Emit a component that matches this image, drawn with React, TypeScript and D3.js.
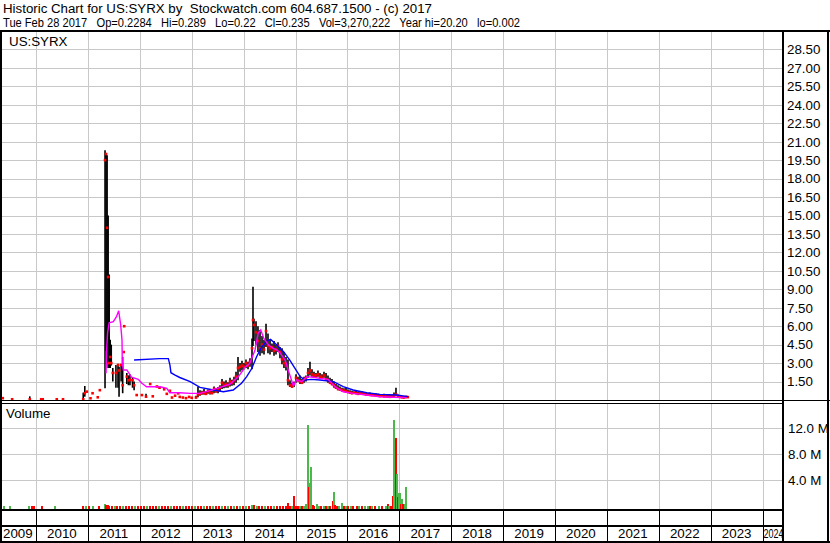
import React from "react";
import * as d3 from "d3";

const header1 = "Historic Chart for US:SYRX by  Stockwatch.com 604.687.1500 - (c) 2017";
const header2 = "Tue Feb 28 2017   Op=0.2284   Hi=0.289   Lo=0.22   Cl=0.235   Vol=3,270,222   Year hi=20.20   lo=0.002";
const symbolLabel = "US:SYRX";
const volumeTitle = "Volume";
const yearLabels = [2009, 2010, 2011, 2012, 2013, 2014, 2015, 2016, 2017, 2018, 2019, 2020, 2021, 2022, 2023, 2024];
const priceTicks = [1.5, 3, 4.5, 6, 7.5, 9, 10.5, 12, 13.5, 15, 16.5, 18, 19.5, 21, 22.5, 24, 25.5, 27, 28.5];
const volumeTicks = [4, 8, 12];

// [decimal year, high, low, close]
const priceBars: number[][] = [
  [2009.36, 0.15, 0.15, 0.15], [2009.54, 0.06, 0.06, 0.06], [2009.88, 0.3, 0.06, 0.06],
  [2010.10, 0.06, 0.06, 0.06], [2010.13, 0.06, 0.06, 0.06], [2010.40, 0.06, 0.06, 0.06],
  [2010.52, 0.06, 0.06, 0.06], [2010.91, 0.6, 0.06, 0.06], [2010.94, 1.14, 0.27, 0.55],
  [2010.98, 0.68, 0.68, 0.68], [2011.05, 0.14, 0.14, 0.14], [2011.09, 0.55, 0.55, 0.55],
  [2011.19, 0.22, 0.22, 0.22], [2011.23, 0.8, 0.8, 0.8],
  [2011.33, 20.3, 0.95, 19.5], [2011.35, 20.0, 4.0, 20.0], [2011.37, 19.9, 3.0, 14.0],
  [2011.39, 15.0, 2.6, 10.0], [2011.41, 10.2, 2.6, 3.0], [2011.43, 4.9, 2.6, 3.5],
  [2011.45, 4.5, 2.8, 3.0], [2011.48, 2.6, 1.5, 2.2], [2011.54, 2.85, 1.0, 2.2],
  [2011.58, 2.85, 1.0, 2.85], [2011.60, 2.7, 0.27, 2.4], [2011.64, 2.85, 1.5, 2.85],
  [2011.67, 3.5, 0.55, 1.2], [2011.69, 3.9, 3.9, 3.9], [2011.70, 6.0, 6.0, 6.0],
  [2011.75, 2.2, 1.3, 1.9], [2011.78, 2.0, 1.2, 1.6], [2011.81, 2.1, 1.2, 1.65],
  [2011.86, 1.8, 1.0, 1.6], [2011.89, 1.5, 0.8, 1.2], [2011.94, 0.4, 0.4, 0.4],
  [2012.04, 0.4, 0.4, 0.4], [2012.12, 0.5, 0.27, 0.27], [2012.20, 1.3, 1.3, 1.3],
  [2012.25, 0.3, 0.3, 0.3], [2012.33, 1.1, 1.1, 1.1], [2012.38, 1.1, 0.9, 1.0],
  [2012.47, 0.87, 0.87, 0.87], [2012.52, 0.5, 0.5, 0.5], [2012.58, 0.75, 0.75, 0.75],
  [2012.62, 0.2, 0.2, 0.2], [2012.68, 0.35, 0.35, 0.35], [2012.74, 0.54, 0.54, 0.54],
  [2012.77, 0.25, 0.25, 0.25], [2012.83, 0.2, 0.2, 0.2], [2012.89, 0.15, 0.15, 0.15],
  [2012.95, 0.25, 0.25, 0.25], [2013.00, 0.18, 0.18, 0.18],
  [2013.083, 0.35, 0.15, 0.2], [2013.121, 1.08, 0.22, 0.45], [2013.160, 0.8, 0.35, 0.5],
  [2013.198, 0.75, 0.42, 0.6], [2013.237, 0.9, 0.45, 0.55], [2013.276, 0.7, 0.4, 0.5],
  [2013.314, 0.85, 0.5, 0.7], [2013.353, 0.8, 0.45, 0.6], [2013.391, 0.75, 0.5, 0.55],
  [2013.430, 1.1, 0.55, 0.9], [2013.468, 0.95, 0.6, 0.7], [2013.507, 1.05, 0.55, 0.8],
  [2013.545, 1.2, 0.7, 1.0], [2013.584, 1.7, 0.9, 1.4], [2013.622, 1.5, 0.95, 1.2],
  [2013.661, 1.6, 1.0, 1.3], [2013.699, 1.45, 1.0, 1.2], [2013.738, 1.8, 1.1, 1.5],
  [2013.776, 1.65, 1.15, 1.4], [2013.815, 1.9, 1.2, 1.6], [2013.854, 2.3, 1.4, 1.9],
  [2013.892, 3.5, 1.6, 2.6], [2013.931, 3.0, 2.3, 2.7], [2013.969, 3.2, 2.4, 2.8],
  [2014.008, 3.0, 2.5, 2.7], [2014.046, 3.3, 2.6, 3.0], [2014.085, 3.1, 2.5, 2.8],
  [2014.123, 3.4, 2.7, 3.1], [2014.162, 5.0, 2.5, 4.2], [2014.181, 9.2, 4.4, 6.5],
  [2014.200, 6.6, 4.8, 6.1], [2014.239, 6.4, 4.5, 5.5], [2014.277, 6.0, 3.9, 4.8],
  [2014.316, 5.7, 3.6, 4.2], [2014.355, 5.2, 3.8, 4.5], [2014.393, 4.9, 3.7, 4.1],
  [2014.432, 6.2, 4.3, 5.6], [2014.470, 5.4, 3.8, 4.4], [2014.509, 4.9, 3.7, 4.2],
  [2014.547, 4.6, 3.9, 4.3], [2014.586, 4.8, 3.6, 4.0], [2014.624, 4.5, 3.7, 4.1],
  [2014.663, 4.7, 3.9, 4.4], [2014.701, 4.3, 3.4, 3.9], [2014.740, 4.2, 2.9, 3.3],
  [2014.778, 3.9, 2.6, 3.0], [2014.817, 3.5, 2.4, 2.8], [2014.855, 3.3, 1.2, 1.6],
  [2014.894, 1.6, 1.05, 1.2], [2014.933, 1.4, 1.0, 1.1], [2014.971, 1.5, 1.05, 1.3],
  [2015.010, 2.1, 1.4, 1.8], [2015.048, 1.9, 1.5, 1.6], [2015.087, 2.0, 1.3, 1.5],
  [2015.125, 1.7, 1.3, 1.4], [2015.164, 1.9, 1.4, 1.7], [2015.202, 2.0, 1.5, 1.8],
  [2015.241, 2.6, 1.8, 2.2], [2015.279, 3.1, 2.0, 2.4], [2015.318, 2.5, 1.9, 2.1],
  [2015.356, 2.3, 1.8, 2.0], [2015.395, 2.2, 1.8, 2.0], [2015.433, 2.4, 1.9, 2.1],
  [2015.472, 2.2, 1.7, 1.9], [2015.511, 2.1, 1.7, 1.8], [2015.549, 2.3, 1.8, 2.0],
  [2015.588, 2.2, 1.6, 1.7], [2015.626, 2.0, 1.4, 1.6], [2015.665, 1.8, 1.3, 1.4],
  [2015.703, 1.7, 1.2, 1.3], [2015.742, 1.5, 1.0, 1.2], [2015.780, 1.3, 0.9, 1.0],
  [2015.819, 1.2, 0.8, 0.9], [2015.857, 1.1, 0.75, 0.85], [2015.896, 1.0, 0.7, 0.8],
  [2015.934, 0.95, 0.65, 0.75], [2015.973, 1.0, 0.6, 0.7], [2016.012, 0.85, 0.6, 0.65],
  [2016.050, 0.8, 0.55, 0.6], [2016.089, 0.75, 0.5, 0.55], [2016.127, 0.7, 0.5, 0.6],
  [2016.166, 0.8, 0.5, 0.55], [2016.204, 0.7, 0.45, 0.5], [2016.243, 0.65, 0.45, 0.55],
  [2016.281, 0.7, 0.5, 0.6], [2016.320, 0.6, 0.45, 0.5], [2016.358, 0.65, 0.4, 0.45],
  [2016.397, 0.55, 0.4, 0.45], [2016.435, 0.6, 0.38, 0.42], [2016.474, 0.55, 0.35, 0.4],
  [2016.513, 0.5, 0.35, 0.4], [2016.551, 0.55, 0.32, 0.38], [2016.590, 0.5, 0.3, 0.35],
  [2016.628, 0.45, 0.28, 0.32], [2016.667, 0.48, 0.3, 0.35], [2016.705, 0.5, 0.28, 0.3],
  [2016.744, 0.42, 0.25, 0.3], [2016.782, 0.45, 0.26, 0.28], [2016.821, 0.4, 0.22, 0.26],
  [2016.859, 0.42, 0.24, 0.28], [2016.898, 0.6, 0.25, 0.35], [2016.936, 1.0, 0.35, 0.45],
  [2016.975, 0.45, 0.2, 0.3], [2017.013, 0.38, 0.2, 0.25], [2017.052, 0.35, 0.18, 0.22],
  [2017.090, 0.32, 0.16, 0.2], [2017.129, 0.3, 0.2, 0.25], [2017.164, 0.289, 0.22, 0.235],
];

// short moving average (magenta): [decimal year, value]
const maShort: number[][] = [
  [2011.35, 2.17], [2011.36, 4.0], [2011.38, 5.5], [2011.41, 6.28], [2011.49, 6.37],
  [2011.55, 6.77], [2011.593, 7.25], [2011.605, 6.9], [2011.632, 6.1], [2011.657, 4.88],
  [2011.663, 2.98], [2011.682, 2.44], [2011.75, 2.44], [2011.84, 1.85], [2011.97, 1.68],
  [2012.04, 1.36], [2012.13, 1.08], [2012.39, 1.08], [2012.52, 0.95], [2012.58, 0.59],
  [2012.77, 0.59], [2012.97, 0.54], [2013.16, 0.54], [2013.35, 0.76], [2013.55, 1.03],
  [2013.74, 1.3], [2013.90, 1.9], [2014.03, 2.66], [2014.12, 2.98], [2014.22, 4.07],
  [2014.28, 5.42], [2014.33, 5.69], [2014.39, 5.0], [2014.48, 4.47], [2014.57, 4.2],
  [2014.64, 4.07], [2014.70, 3.85], [2014.80, 3.25], [2014.89, 2.03], [2014.96, 1.14],
  [2015.02, 1.63], [2015.12, 1.49], [2015.22, 1.9], [2015.34, 1.85], [2015.47, 1.76],
  [2015.63, 1.68], [2015.76, 1.08], [2015.92, 0.67], [2016.11, 0.54], [2016.37, 0.41],
  [2016.63, 0.27], [2016.88, 0.22], [2017.14, 0.19],
];

// long moving average (blue)
const maLong: number[][] = [
  [2011.89, 3.25], [2012.38, 3.36], [2012.55, 3.36], [2012.58, 2.85], [2012.60, 2.22],
  [2012.68, 2.03], [2012.77, 1.83], [2012.97, 1.49], [2013.16, 1.03], [2013.42, 0.81],
  [2013.61, 0.67], [2013.80, 0.81], [2013.96, 1.36], [2014.06, 1.9], [2014.16, 2.58],
  [2014.25, 3.52], [2014.35, 4.33], [2014.46, 4.82], [2014.52, 4.93], [2014.64, 4.47],
  [2014.77, 3.93], [2014.89, 3.25], [2014.99, 2.58], [2015.09, 1.9], [2015.18, 1.63],
  [2015.31, 1.68], [2015.47, 1.63], [2015.73, 1.49], [2015.92, 1.08], [2016.11, 0.81],
  [2016.37, 0.59], [2016.63, 0.46], [2016.95, 0.41], [2017.17, 0.27],
];

// volume: [decimal year, millions, up(1)/down(0)]
const volumeRows: number[][] = [
  [2009.38, 0.06, 1], [2009.50, 0.04, 1], [2009.87, 0.05, 1], [2009.92, 0.07, 0], [2009.97, 0.05, 0],
  [2010.12, 0.05, 0], [2010.37, 0.04, 1], [2010.91, 0.08, 0], [2010.96, 0.06, 1], [2011.03, 0.08, 0],
  [2011.10, 0.05, 1], [2011.22, 0.07, 0], [2011.33, 0.3, 1], [2011.35, 0.25, 0], [2011.37, 0.2, 0],
  [2011.39, 0.15, 0], [2011.41, 0.12, 0], [2011.47, 0.08, 0], [2011.52, 0.06, 1], [2011.57, 0.1, 0],
  [2011.62, 0.07, 0], [2011.68, 0.05, 1], [2011.73, 0.08, 0], [2011.79, 0.06, 0], [2011.85, 0.09, 0],
  [2011.91, 0.05, 1], [2011.97, 0.07, 0], [2012.02, 0.06, 0], [2012.08, 0.08, 0], [2012.14, 0.05, 1],
  [2012.20, 0.07, 0], [2012.26, 0.06, 0], [2012.32, 0.05, 0], [2012.37, 0.06, 1], [2012.43, 0.08, 0],
  [2012.49, 0.06, 0], [2012.55, 0.07, 0], [2012.60, 0.05, 1], [2012.66, 0.06, 0], [2012.72, 0.08, 0],
  [2012.78, 0.06, 0], [2012.84, 0.05, 1], [2012.89, 0.07, 0], [2012.95, 0.06, 0], [2013.01, 0.05, 0],
  [2013.07, 0.06, 1], [2013.12, 0.07, 0], [2013.18, 0.05, 0], [2013.24, 0.06, 1], [2013.30, 0.08, 0],
  [2013.35, 0.06, 0], [2013.41, 0.07, 1], [2013.47, 0.05, 0], [2013.53, 0.08, 0], [2013.58, 0.06, 1],
  [2013.64, 0.07, 0], [2013.70, 0.09, 1], [2013.76, 0.06, 0], [2013.81, 0.08, 1], [2013.87, 0.1, 0],
  [2013.93, 0.12, 1], [2013.99, 0.1, 0], [2014.04, 0.1, 1], [2014.10, 0.12, 0], [2014.16, 0.2, 1],
  [2014.20, 0.15, 0], [2014.25, 0.12, 1], [2014.30, 0.1, 0], [2014.36, 0.12, 0], [2014.42, 0.08, 1],
  [2014.47, 0.1, 0], [2014.53, 0.08, 0], [2014.59, 0.06, 1], [2014.65, 0.1, 0], [2014.70, 0.08, 0],
  [2014.76, 0.1, 0], [2014.81, 0.12, 0], [2014.85, 0.46, 0], [2014.90, 0.08, 0], [2014.93, 0.05, 1],
  [2014.965, 1.6, 0], [2015.00, 0.1, 0], [2015.04, 0.06, 0], [2015.08, 0.08, 1], [2015.12, 0.07, 0],
  [2015.16, 0.06, 1], [2015.198, 0.3, 1], [2015.235, 12.5, 1], [2015.254, 2.9, 0], [2015.27, 3.6, 1],
  [2015.299, 6.1, 1], [2015.331, 0.25, 0], [2015.36, 0.1, 0], [2015.42, 0.3, 1], [2015.46, 0.08, 1],
  [2015.50, 0.06, 0], [2015.54, 0.1, 1], [2015.58, 0.05, 0], [2015.62, 0.1, 1], [2015.66, 0.06, 0],
  [2015.713, 0.86, 0], [2015.736, 2.25, 1], [2015.76, 0.2, 0], [2015.80, 0.1, 0], [2015.83, 0.05, 1],
  [2015.89, 0.55, 1], [2015.93, 0.08, 0], [2015.97, 0.1, 1], [2016.01, 0.06, 0], [2016.06, 0.05, 1],
  [2016.10, 0.06, 0], [2016.185, 0.08, 0], [2016.22, 0.05, 1], [2016.28, 0.06, 0], [2016.34, 0.05, 1],
  [2016.40, 0.07, 1], [2016.44, 0.05, 0], [2016.48, 0.1, 1], [2016.54, 0.06, 0], [2016.60, 0.05, 1],
  [2016.66, 0.06, 0], [2016.74, 0.08, 1], [2016.776, 0.35, 0], [2016.81, 0.1, 1], [2016.84, 0.1, 0],
  [2016.869, 1.6, 0], [2016.898, 13.3, 1], [2016.927, 10.5, 0], [2016.956, 5.0, 1], [2016.975, 1.4, 0],
  [2016.994, 2.1, 1], [2017.013, 2.0, 1], [2017.03, 0.3, 0], [2017.052, 1.2, 1], [2017.07, 0.4, 0],
  [2017.09, 0.1, 0], [2017.11, 0.3, 1], [2017.138, 2.9, 1],
];

const FONT = "'Liberation Sans', Arial, Helvetica, sans-serif";
const GRID = "#c8c8c8";

export default function App() {
  const left = 2, right = 782;
  const priceTop = 31, priceBottom = 400;
  const volTop = 403, volBottom = 509;
  const x = d3.scaleLinear().domain([2010, 2024]).range([36, 762.6]);
  const yP = d3.scaleLinear().domain([0, 30]).range([priceBottom, priceTop]);
  const yV = d3.scaleLinear().domain([0, 12]).range([506.3, 428.3]);
  const lineGen = d3.line<number[]>().x((d) => x(d[0])).y((d) => yP(d[1]));
  const boundaries = yearLabels.slice(1).map((y) => x(y));

  return (
    <svg width={830} height={543} style={{ position: "absolute", left: 0, top: 0, display: "block", background: "#fff" }}
      fontFamily={FONT} fontSize={13.33}>
      <defs>
        <clipPath id="pclip"><rect x={left} y={priceTop} width={right - left} height={priceBottom - priceTop} /></clipPath>
        <clipPath id="vclip"><rect x={left} y={volTop} width={right - left} height={volBottom - volTop} /></clipPath>
        <clipPath id="xclip"><rect x={left} y={510} width={right - left} height={31} /></clipPath>
      </defs>
      <rect x={0} y={0} width={830} height={543} fill="#fff" />
      {/* header */}
      <text x={3} y={13} fontSize={12} textLength={429} lengthAdjust="spacingAndGlyphs" style={{ whiteSpace: "pre" }}>{header1}</text>
      <text x={3} y={26.5} fontSize={12} textLength={517} lengthAdjust="spacingAndGlyphs" style={{ whiteSpace: "pre" }}>{header2}</text>

      {/* price grid */}
      <g shapeRendering="crispEdges" stroke={GRID} strokeWidth={1}>
        {priceTicks.map((t) => (<line key={"h" + t} x1={left} x2={right} y1={Math.round(yP(t)) + 0.5} y2={Math.round(yP(t)) + 0.5} />))}
        {boundaries.map((bx, i) => (<line key={"v" + i} x1={Math.round(bx) + 0.5} x2={Math.round(bx) + 0.5} y1={priceTop} y2={priceBottom} />))}
        {boundaries.map((bx, i) => (<line key={"vv" + i} x1={Math.round(bx) + 0.5} x2={Math.round(bx) + 0.5} y1={volTop} y2={volBottom} />))}
        {volumeTicks.map((t) => (<line key={"vh" + t} x1={left} x2={right} y1={Math.round(yV(t)) + 0.5} y2={Math.round(yV(t)) + 0.5} />))}
      </g>

      <text x={9} y={45.5}>{symbolLabel}</text>

      {/* price marks */}
      <g clipPath="url(#pclip)">
        <g stroke="#000" strokeWidth={1.6}>
          {priceBars.filter((d) => d[1] > d[2]).map((d, i) => (
            <line key={i} x1={x(d[0])} x2={x(d[0])} y1={yP(d[1])} y2={yP(d[2])} />
          ))}
        </g>
        <g fill="#ff0000">
          {priceBars.map((d, i) => (
            <rect key={i} x={x(d[0]) - 1.3} y={yP(d[3]) - 1.3} width={2.6} height={2.6} />
          ))}
        </g>
        <path d={lineGen(maLong) || ""} fill="none" stroke="#0000ff" strokeWidth={1.4} />
        <path d={lineGen(maShort) || ""} fill="none" stroke="#ff00ff" strokeWidth={1.4} />
      </g>

      {/* price axis labels */}
      {priceTicks.map((t) => (
        <text key={"pl" + t} x={787} y={yP(t) + 4.8}>{t.toFixed(2)}</text>
      ))}

      {/* volume */}
      <text x={6} y={418}>{volumeTitle}</text>
      <g clipPath="url(#vclip)" shapeRendering="crispEdges">
        {volumeRows.map((d, i) => (
          <rect key={i} x={x(d[0]) - 1} y={yV(d[1])} width={2} height={volBottom + 1 - yV(d[1])}
            fill={d[2] ? "#4cb84c" : "#ff0000"} />
        ))}
      </g>
      {volumeTicks.map((t) => (
        <text key={"vl" + t} x={788} y={yV(t) + 4.8}>{t.toFixed(1) + " M"}</text>
      ))}

      {/* x axis band */}
      <g stroke="#000" shapeRendering="crispEdges">
        {boundaries.map((bx, i) => (
          <line key={"xb" + i} x1={Math.round(bx) + 0.5} x2={Math.round(bx) + 0.5} y1={510} y2={541} strokeWidth={1} />
        ))}
      </g>
      <g clipPath="url(#xclip)">
        {yearLabels.map((yr, i) => {
          if (i === 0) return <text key={yr} x={3} y={538}>{yr}</text>;
          if (yr === 2024) return <text key={yr} x={x(2024) + 1} y={538} textLength={20} lengthAdjust="spacingAndGlyphs">{yr}</text>;
          return <text key={yr} x={x(yr + 0.5)} y={538} textAnchor="middle">{yr}</text>;
        })}
      </g>

      {/* frame lines */}
      <g stroke="#000" shapeRendering="crispEdges" fill="none">
        <line x1={0} x2={830} y1={30.5} y2={30.5} strokeWidth={2} />
        <line x1={1} x2={1} y1={30} y2={543} strokeWidth={2} />
        <line x1={782.5} x2={782.5} y1={30} y2={543} strokeWidth={2} />
        <line x1={827.5} x2={827.5} y1={30} y2={543} strokeWidth={2} />
        <line x1={0} x2={830} y1={400.5} y2={400.5} strokeWidth={1} />
        <line x1={0} x2={783} y1={403.5} y2={403.5} strokeWidth={1} />
        <line x1={0} x2={783} y1={510} y2={510} strokeWidth={2} />
        <line x1={0} x2={783} y1={525.5} y2={525.5} strokeWidth={2} />
        <line x1={0} x2={830} y1={541.5} y2={541.5} strokeWidth={2} />
      </g>
    </svg>
  );
}
